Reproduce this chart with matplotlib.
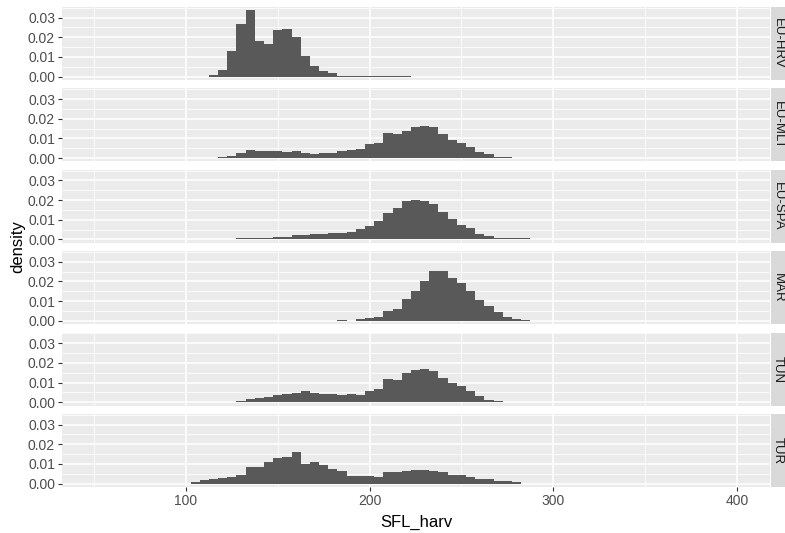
import matplotlib
matplotlib.use("Agg")
import matplotlib.pyplot as plt
from matplotlib.patches import Rectangle
import numpy as np

plt.rcParams['font.family'] = ['Liberation Sans', 'DejaVu Sans']

# histogram densities, binwidth 5
binwidth = 5
groups = ["EU-HRV", "EU-MLT", "EU-SPA", "MAR", "TUN", "TUR"]
bin_start = [112.5, 117.5, 127.5, 182.5, 127.5, 102.5]

hrv = [0.001, 0.0035, 0.013, 0.027, 0.0337, 0.0183, 0.0168, 0.0236, 0.0244,
       0.0202, 0.0104, 0.0052, 0.003, 0.0018,
       0.0005, 0.0005, 0.0005, 0.0005, 0.0005, 0.0005, 0.0005, 0.0005]
mlt = [0.0006, 0.001, 0.0025, 0.0043, 0.0038, 0.0038, 0.0038, 0.0033, 0.0037,
       0.0025, 0.002, 0.0027, 0.0027, 0.0037, 0.0042, 0.0048, 0.007, 0.0075,
       0.0128, 0.012, 0.014, 0.0157, 0.0165, 0.0157, 0.0123, 0.0093, 0.0075,
       0.0058, 0.0033, 0.002, 0.0008, 0.0006]
spa = [0.0006, 0.0006, 0.0006, 0.0006, 0.0015, 0.0015, 0.0022, 0.0022,
       0.0029, 0.0029, 0.0034, 0.0034, 0.0039, 0.0051, 0.0071, 0.0092,
       0.0134, 0.0159, 0.0193, 0.0198, 0.0195, 0.018, 0.0142, 0.0102, 0.0076,
       0.0056, 0.0029, 0.0017, 0.0006, 0.0006, 0.0006, 0.0006]
mar = [0.0006, 0.0, 0.0008, 0.0015, 0.0022, 0.005, 0.0058, 0.0113, 0.0152,
       0.0205, 0.0255, 0.0252, 0.0218, 0.0192, 0.015, 0.0105, 0.0075, 0.0043,
       0.0022, 0.0012, 0.0006]
tun = [0.0006, 0.0015, 0.0023, 0.0028, 0.0038, 0.0043, 0.0048, 0.0057,
       0.0048, 0.0043, 0.0043, 0.0038, 0.0043, 0.0038, 0.0057, 0.0065,
       0.0117, 0.0113, 0.0148, 0.0163, 0.0168, 0.0158, 0.0125, 0.0097,
       0.0083, 0.0057, 0.003, 0.0012, 0.0006]
tur = [0.0007, 0.0017, 0.0025, 0.0028, 0.0032, 0.0042, 0.0087, 0.0087,
       0.0108, 0.013, 0.0137, 0.0162, 0.0102, 0.0112, 0.0097, 0.0075, 0.0062,
       0.004, 0.004, 0.004, 0.0032, 0.0057, 0.0057, 0.0063, 0.0068, 0.0068,
       0.0063, 0.0057, 0.0043, 0.0043, 0.0032, 0.0025, 0.0025, 0.0013,
       0.0012, 0.0007]
densities = [hrv, mlt, spa, mar, tun, tur]

x_ticks = [100, 200, 300, 400]
y_ticks = [0.00, 0.01, 0.02, 0.03]

W, H = 785, 533
fig, axes = plt.subplots(6, 1, figsize=(W / 100, H / 100), dpi=100, sharex=True)
fig.subplots_adjust(left=62 / W, right=770 / W, top=1 - 7 / H,
                    bottom=1 - 487 / H, hspace=0.115)

ymax = max(max(d) for d in densities)
ylim = (-0.05 * ymax, 1.05 * ymax)

for ax, name, start, dens in zip(axes, groups, bin_start, densities):
    ax.set_facecolor("#EBEBEB")
    for s in ax.spines.values():
        s.set_visible(False)
    left = start + binwidth * np.arange(len(dens))
    ax.bar(left, dens, width=binwidth, align="edge", color="#595959",
           linewidth=0, zorder=3)
    ax.set_xlim(32.5, 418)
    ax.set_ylim(*ylim)
    ax.set_yticks(y_ticks)
    ax.set_yticklabels(["%.2f" % v for v in y_ticks])
    ax.set_yticks([0.005, 0.015, 0.025, 0.035], minor=True)
    ax.set_xticks(x_ticks)
    ax.set_xticks([50, 150, 250, 350], minor=True)
    ax.grid(True, which="major", color="white", linewidth=1.1, zorder=0)
    ax.grid(True, which="minor", color="white", linewidth=0.55, zorder=0)
    ax.set_axisbelow(True)
    ax.tick_params(axis="both", which="major", length=3, width=0.8,
                   color="#333333", labelcolor="#4D4D4D", labelsize=10, pad=2)
    ax.tick_params(axis="both", which="minor", length=0)
    # facet strip on the right
    ax.add_patch(Rectangle((1 + 1 / 708, 0), 16 / 708, 1,
                           transform=ax.transAxes, facecolor="#D9D9D9",
                           edgecolor="none", clip_on=False))
    ax.text(1 + 7.5 / 708, 0.5, name, transform=ax.transAxes, rotation=-90,
            ha="center", va="center", fontsize=9.5, color="#1A1A1A")

for ax in axes[:-1]:
    ax.tick_params(axis="x", which="both", bottom=False, labelbottom=False)

axes[-1].set_xticklabels([str(v) for v in x_ticks])
fig.text(416 / W, 1 - 522 / H, "SFL_harv", ha="center", va="center",
         fontsize=12, color="black")
fig.text(18 / W, 1 - 247 / H, "density", ha="center", va="center",
         rotation=90, fontsize=12, color="black")

fig.savefig("out.png", dpi=100)
